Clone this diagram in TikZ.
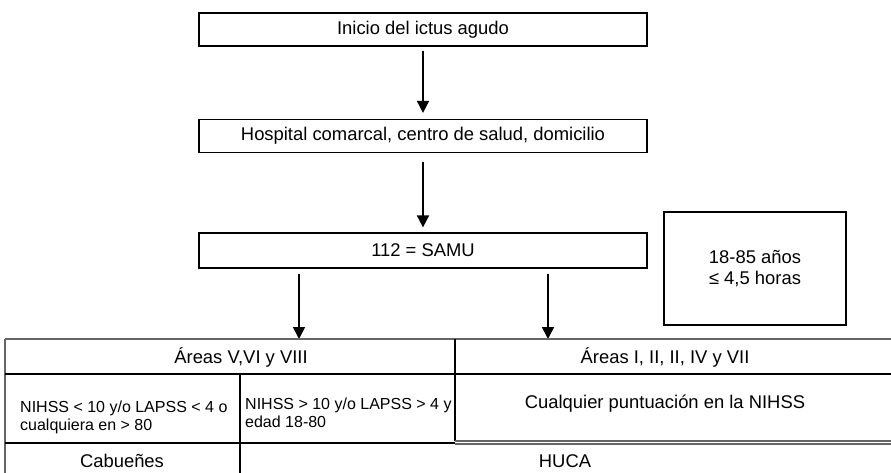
\documentclass[tikz,border=0pt]{standalone}
\usepackage{fontspec}
\setmainfont{Liberation Sans}
\usetikzlibrary{arrows.meta}
\begin{document}
\begin{tikzpicture}[x=1pt,y=-1pt,
  flowbox/.style={draw=black, line width=1.2pt, minimum width=448pt, minimum height=33pt, inner sep=0pt, font=\fontsize{18.4}{21}\selectfont},
  arr/.style={line width=1.8pt, -{Triangle[length=12pt,width=12pt]}},
  tline/.style={line width=1.4pt},
  tgray/.style={line width=1.4pt, draw=black!60},
  big/.style={font=\fontsize{18.4}{22}\selectfont, inner sep=0pt},
  small/.style={font=\fontsize{16}{18}\selectfont, inner sep=0pt, align=left, anchor=west},
]
\clip (0,0) rectangle (891,473);
% flow boxes
\node[flowbox] (inicio) at (423,29.5) {Inicio del ictus agudo};
\node[flowbox] (hosp) at (423,136) {Hospital comarcal, centro de salud, domicilio};
\node[flowbox, minimum height=35pt] (samu) at (423,250.5) {112 = SAMU};
\node[flowbox, minimum width=182pt, minimum height=113pt, align=center] (edad) at (755,268.5) {18-85 años\\≤ 4,5 horas};
% arrows
\draw[arr, shorten <=4pt, shorten >=6pt] (inicio) -- (hosp);
\draw[arr, shorten <=9pt, shorten >=5pt] (hosp) -- (samu);
\coordinate (aL) at (299,339);
\coordinate (aR) at (548,339);
\draw[arr, shorten <=5pt] (samu.south -| aL) -- (aL);
\draw[arr, shorten <=5pt] (samu.south -| aR) -- (aR);
% table
\draw[tgray] (5,339) -- (895,339);
\draw[tgray] (5,339) -- (5,476);
\draw[tline] (455,339) -- (455,441);
\draw[tline] (5,374) -- (895,374);
\draw[tline] (240,374) -- (240,476);
\draw[tline] (5,443) -- (455,443);
\draw[tgray] (455,441) -- (895,441);
\draw[tgray] (455,444) -- (895,444);
% table texts
\node[big] (tAL) at (241,357) {Áreas V,VI y VIII};
\node[big] (tAR) at (665,357) {Áreas I, II, II, IV y VII};
\node[small] (tC1) at (20,417) {NIHSS < 10 y/o LAPSS < 4 o\\cualquiera en > 80};
\node[small] (tC2) at (245,413) {NIHSS > 10 y/o LAPSS > 4 y\\edad 18-80};
\node[big] (tC3) at (665,404) {Cualquier puntuación en la NIHSS};
\node[big] (tCab) at (122,461) {Cabueñes};
\node[big] (tHuca) at (565,461) {HUCA};
\end{tikzpicture}
\end{document}
